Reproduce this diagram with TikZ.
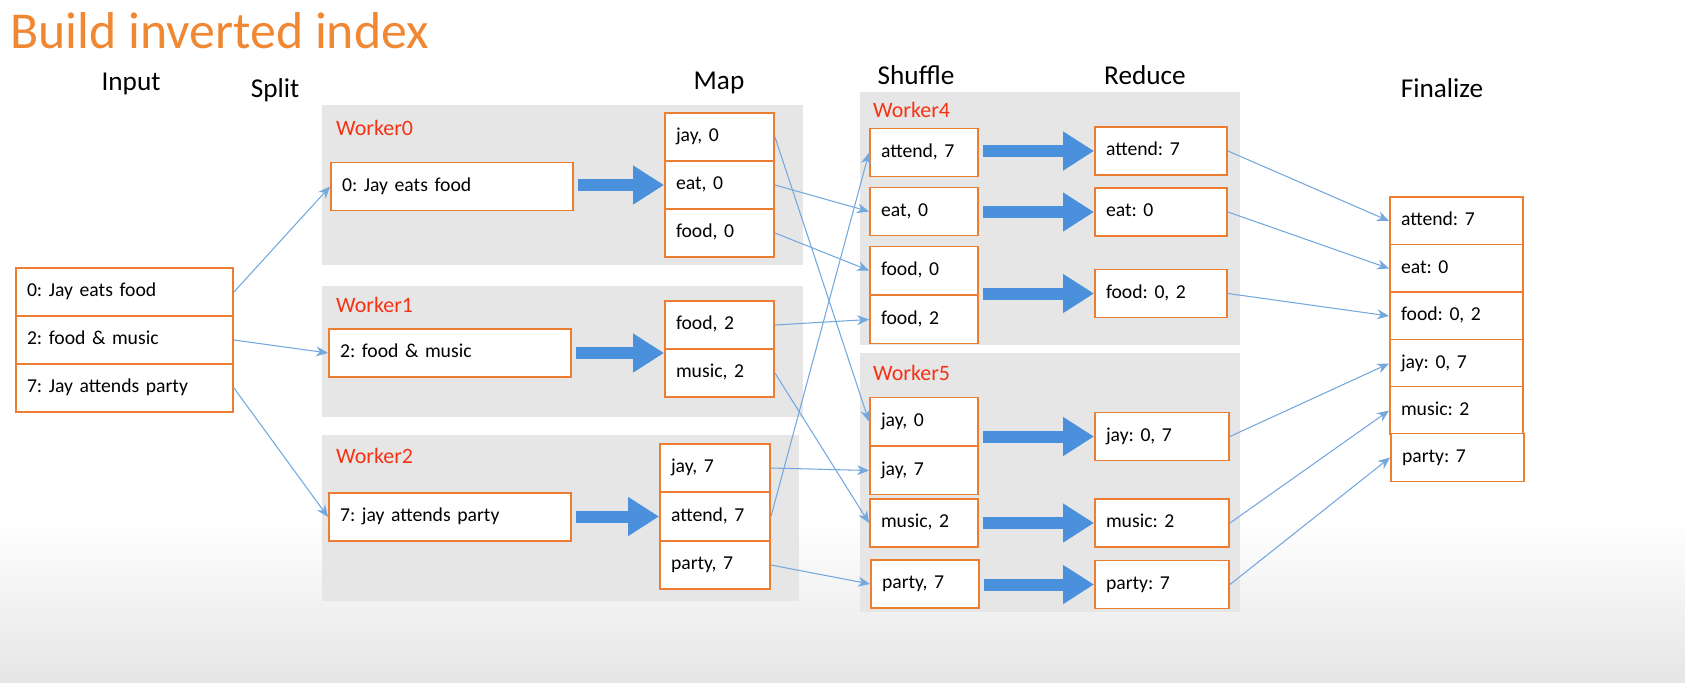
\documentclass[tikz,border=0pt]{standalone}
\usepackage{fontspec}
\setmainfont{Carlito}
\frenchspacing
\usetikzlibrary{arrows.meta}
\definecolor{boxorange}{RGB}{237,125,49}
\definecolor{titleorange}{RGB}{240,135,50}
\definecolor{panelgray}{RGB}{231,230,230}
\definecolor{linkblue}{RGB}{115,168,222}
\definecolor{flowblue}{RGB}{74,144,220}
\definecolor{workerred}{RGB}{245,50,20}
\begin{document}
\begin{tikzpicture}[x=0.02cm, y=-0.02cm,
	box/.style={draw=boxorange, line width=1.1pt, fill=white, minimum height=0.96cm, inner xsep=0.22cm, align=left, text height=0.75em, text depth=0.22em, font=\fontsize{11.2}{13}\selectfont},
	panel/.style={fill=panelgray},
	wlabel/.style={anchor=west, text=workerred, font=\fontsize{12.5}{14}\selectfont},
	head/.style={font=\fontsize{15.5}{18}\selectfont},
	link/.style={draw=linkblue, line width=0.6pt, -{Stealth[length=2.4mm, width=2mm]}},
	flow/.style={draw=flowblue, line width=0.24cm, -{Triangle[length=0.62cm, width=0.74cm]}, shorten <=0.08cm}]
		
		\useasboundingbox (0,0) rectangle (1685,683);
		\shade[top color=white, bottom color=black!10] (0,520) rectangle (1685,683);
		
		\node[anchor=base west, inner sep=0, text=titleorange, font=\fontsize{29.5}{34}\selectfont] (title) at (10,48){Build inverted index};
		
		\node[head] (hInput) at (131,84){Input};
		\node[head] (hSplit) at (275,90){Split};
		\node[head] (hMap) at (719,83){Map};
		\node[head] (hShuffle) at (916,75){Shuffle};
		\node[head] (hReduce) at (1145,75){Reduce};
		\node[head] (hFinal) at (1442,88){Finalize};
		
		%%%%% Workers %%%%%%
		\fill[panel] (322,105) rectangle (803,265);
		\fill[panel] (322,286) rectangle (803,417);
		\fill[panel] (322,435) rectangle (799,601);
		\fill[panel] (860,92) rectangle (1240,345);
		\fill[panel] (860,353) rectangle (1240,612);
		
		\node[wlabel] (lab0) at (330,128){Worker0};
		\node[wlabel] (lab1) at (330,305){Worker1};
		\node[wlabel] (lab2) at (330,456){Worker2};
		\node[wlabel] (lab4) at (867,110){Worker4};
		\node[wlabel] (lab5) at (867,373){Worker5};
		
		%%%%% Input %%%%%%
		\node[box, text width=3.9cm] (in0) at (124.5,292){0: Jay eats food};
		\node[box, text width=3.9cm] (in2) at (124.5,340){2: food \& music};
		\node[box, text width=3.9cm] (in7) at (124.5,388){7: Jay attends party};
		
		%%%%% Split %%%%%%
		\node[box, text width=4.4cm] (w0in) at (452,186.5){0: Jay eats food};
		\node[box, text width=4.4cm] (w1in) at (450,353){2: food \& music};
		\node[box, text width=4.4cm] (w2in) at (450,517){7: jay attends party};
		
		%%%%% Map %%%%%%
		\node[box, text width=1.74cm] (m0jay) at (719.5,137){jay, 0};
		\node[box, text width=1.74cm] (m0eat) at (719.5,185){eat, 0};
		\node[box, text width=1.74cm] (m0food) at (719.5,233){food, 0};
		\node[box, text width=1.74cm] (m1food) at (719.5,325){food, 2};
		\node[box, text width=1.74cm] (m1music) at (719.5,373){music, 2};
		\node[box, text width=1.76cm] (m2jay) at (715,468){jay, 7};
		\node[box, text width=1.76cm] (m2att) at (715,516.5){attend, 7};
		\node[box, text width=1.76cm] (m2party) at (715,565){party, 7};
		
		%%%%% Shuffle %%%%%%
		\node[box, text width=1.72cm] (s4att) at (924,152.5){attend, 7};
		\node[box, text width=1.72cm] (s4eat) at (924,211.5){eat, 0};
		\node[box, text width=1.72cm] (s4food0) at (924,270.5){food, 0};
		\node[box, text width=1.72cm] (s4food2) at (924,319.5){food, 2};
		\node[box, text width=1.72cm] (s5jay0) at (924,421.5){jay, 0};
		\node[box, text width=1.72cm] (s5jay7) at (924,470.5){jay, 7};
		\node[box, text width=1.72cm] (s5music) at (924,523){music, 2};
		\node[box, text width=1.72cm] (s5party) at (925,584){party, 7};
		
		%%%%% Reduce %%%%%%
		\node[box, text width=2.2cm] (r4att) at (1161,151){attend: 7};
		\node[box, text width=2.2cm] (r4eat) at (1161,212){eat: 0};
		\node[box, text width=2.2cm] (r4food) at (1161,293.5){food: 0, 2};
		\node[box, text width=2.24cm] (r5jay) at (1162,436.5){jay: 0, 7};
		\node[box, text width=2.24cm] (r5music) at (1162,523){music: 2};
		\node[box, text width=2.24cm] (r5party) at (1162,584.5){party: 7};
		
		%%%%% Finalize %%%%%%
		\node[box, text width=2.22cm] (fAtt) at (1456.5,221){attend: 7};
		\node[box, text width=2.22cm] (fEat) at (1456.5,268.5){eat: 0};
		\node[box, text width=2.22cm] (fFood) at (1456.5,316){food: 0, 2};
		\node[box, text width=2.22cm] (fJay) at (1456.5,363.5){jay: 0, 7};
		\node[box, text width=2.22cm] (fMusic) at (1456.5,410.5){music: 2};
		\node[box, text width=2.22cm] (fParty) at (1457.5,457.5){party: 7};
		
		%%%%% Arrows %%%%%%
		\draw[flow] (w0in.east |- m0eat.west)--(m0eat.west);
		\draw[flow] (w1in.east)--(w1in.east -| m1food.south west);
		\draw[flow] (w2in.east |- m2att.west)--(m2att.west);
		\draw[flow] (s4att.east |- r4att.west)--(r4att.west);
		\draw[flow] (s4eat.east |- r4eat.west)--(r4eat.west);
		\draw[flow] (s4food0.east |- r4food.west)--(r4food.west);
		\draw[flow] (s5jay0.east |- r5jay.west)--(r5jay.west);
		\draw[flow] (s5music.east |- r5music.west)--(r5music.west);
		\draw[flow] (s5party.east |- r5party.west)--(r5party.west);
		
		\draw[link] (in0.east)--(w0in.west);
		\draw[link] (in2.east)--(w1in.west);
		\draw[link] (in7.east)--(w2in.west);
		
		\draw[link] (m0jay.east)--(s5jay0.west);
		\draw[link] (m0eat.east)--(s4eat.west);
		\draw[link] (m0food.east)--(s4food0.west);
		\draw[link] (m1food.east)--(s4food2.west);
		\draw[link] (m1music.east)--(s5music.west);
		\draw[link] (m2jay.east)--(s5jay7.west);
		\draw[link] (m2att.east)--(s4att.west);
		\draw[link] (m2party.east)--(s5party.west);
		
		\draw[link] (r4att.east)--(fAtt.west);
		\draw[link] (r4eat.east)--(fEat.west);
		\draw[link] (r4food.east)--(fFood.west);
		\draw[link] (r5jay.east)--(fJay.west);
		\draw[link] (r5music.east)--(fMusic.west);
		\draw[link] (r5party.east)--(fParty.west);
		
		\end{tikzpicture}
\end{document}
